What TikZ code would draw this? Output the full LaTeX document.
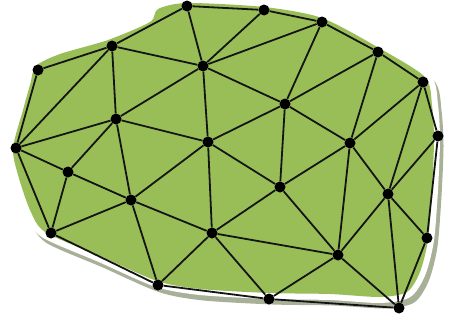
\documentclass[tikz,border=0pt]{standalone}
\usetikzlibrary{calc}
\definecolor{blobgreen}{RGB}{153,190,88}
\definecolor{shadowgray}{RGB}{168,176,152}
\definecolor{edgeblack}{RGB}{20,20,20}
\tikzset{
  dot/.style={circle,fill=black,inner sep=0pt,minimum size=11pt},
  meshedge/.style={draw=edgeblack,line width=1.8pt},
}
\begin{document}
\begin{tikzpicture}[x=1pt,y=-1pt]
\useasboundingbox (0,0) rectangle (452,324);
\def\blob{plot[smooth cycle,tension=0.45] coordinates{
 (36,66) (60,54) (108,40) (150,22) (158,9) (187,3) (264,7) (322,18) (379,48)
 (425,77) (432,105) (434,140) (432,190) (428,240) (420,272) (407,292) (380,297)
 (330,294) (269,293) (200,289) (157,281) (100,256) (45,232) (30,210) (18,175)
 (13,148) (23,110) (30,85)}}
% shadow
\begin{scope}[shift={(4,6)}]
\fill[shadowgray] \blob;
\draw[shadowgray,line width=11pt,line join=round] \blob;
\end{scope}
% white sticker
\fill[white] \blob;
\draw[white,line width=12pt,line join=round] \blob;
% green area
\fill[blobgreen] \blob;
% nodes
\node[dot] (A) at (187,6) {};
\node[dot] (B) at (264,10) {};
\node[dot] (C) at (322,22) {};
\node[dot] (D) at (378,52) {};
\node[dot] (E) at (423,82) {};
\node[dot] (F) at (438,136) {};
\node[dot] (G) at (427,238) {};
\node[dot] (H) at (399,308) {};
\node[dot] (I) at (269,299) {};
\node[dot] (J) at (158,285) {};
\node[dot] (K) at (51,233) {};
\node[dot] (L) at (16,148) {};
\node[dot] (M) at (38,70) {};
\node[dot] (N) at (112,46) {};
\node[dot] (O) at (203,66) {};
\node[dot] (P) at (285,104) {};
\node[dot] (Q) at (350,143) {};
\node[dot] (R) at (388,194) {};
\node[dot] (S) at (338,255) {};
\node[dot] (T) at (280,187) {};
\node[dot] (U) at (212,233) {};
\node[dot] (V) at (131,200) {};
\node[dot] (W) at (68,172) {};
\node[dot] (X) at (116,119) {};
\node[dot] (Y) at (208,142) {};
% boundary
\draw[meshedge] (A)--(B); \draw[meshedge] (B)--(C); \draw[meshedge] (C)--(D);
\draw[meshedge] (D)--(E); \draw[meshedge] (E)--(F); \draw[meshedge] (F)--(G);
\draw[meshedge] (G)--(H); \draw[meshedge] (H)--(I); \draw[meshedge] (I)--(J);
\draw[meshedge] (J)--(K); \draw[meshedge] (K)--(L); \draw[meshedge] (L)--(M);
\draw[meshedge] (M)--(N); \draw[meshedge] (N)--(A);
% interior
\draw[meshedge] (A)--(O); \draw[meshedge] (B)--(O); \draw[meshedge] (C)--(O);
\draw[meshedge] (C)--(P); \draw[meshedge] (D)--(P); \draw[meshedge] (D)--(Q);
\draw[meshedge] (E)--(Q); \draw[meshedge] (E)--(R); \draw[meshedge] (F)--(R);
\draw[meshedge] (G)--(R); \draw[meshedge] (H)--(R); \draw[meshedge] (H)--(S);
\draw[meshedge] (I)--(S); \draw[meshedge] (I)--(U); \draw[meshedge] (J)--(U);
\draw[meshedge] (J)--(V); \draw[meshedge] (K)--(V); \draw[meshedge] (K)--(W);
\draw[meshedge] (L)--(W); \draw[meshedge] (L)--(X); \draw[meshedge] (L)--(N);
\draw[meshedge] (N)--(X); \draw[meshedge] (N)--(O); \draw[meshedge] (O)--(X);
\draw[meshedge] (O)--(Y); \draw[meshedge] (O)--(P); \draw[meshedge] (P)--(Y);
\draw[meshedge] (P)--(T); \draw[meshedge] (P)--(Q); \draw[meshedge] (Q)--(T);
\draw[meshedge] (Q)--(S); \draw[meshedge] (Q)--(R); \draw[meshedge] (R)--(S);
\draw[meshedge] (S)--(T); \draw[meshedge] (S)--(U); \draw[meshedge] (T)--(U);
\draw[meshedge] (T)--(Y); \draw[meshedge] (U)--(Y); \draw[meshedge] (U)--(V);
\draw[meshedge] (V)--(Y); \draw[meshedge] (V)--(X); \draw[meshedge] (V)--(W);
\draw[meshedge] (W)--(X); \draw[meshedge] (X)--(Y);
\end{tikzpicture}
\end{document}
